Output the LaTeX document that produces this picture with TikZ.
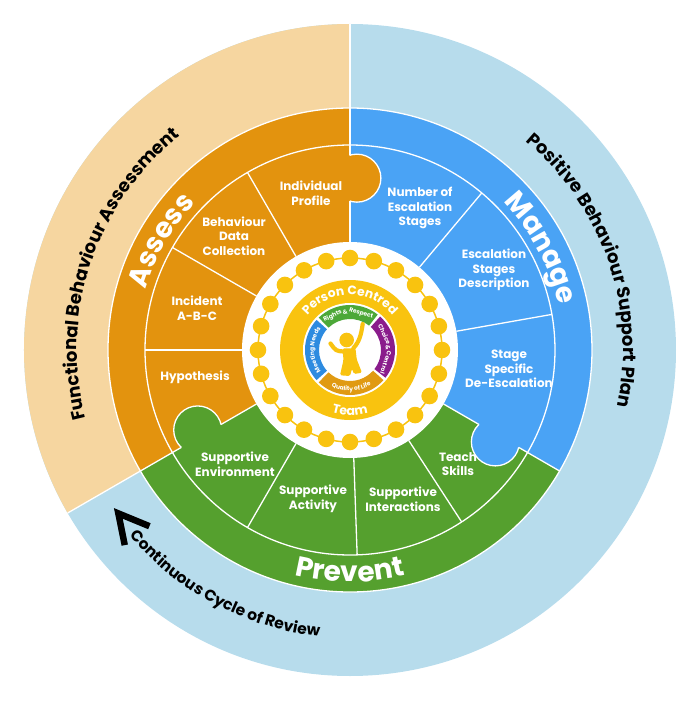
\documentclass[tikz,border=0pt]{standalone}
\usepackage{fontspec}
\setmainfont{Poppins}
\usetikzlibrary{decorations.text}
\definecolor{ringblue}{HTML}{B7DCEC}
\definecolor{ringpeach}{HTML}{F6D6A0}
\definecolor{assessorange}{HTML}{E3930E}
\definecolor{manageblue}{HTML}{4AA3F5}
\definecolor{preventgreen}{HTML}{55A02E}
\definecolor{beadyellow}{HTML}{F9C30F}
\definecolor{needsblue}{HTML}{2D8BE0}
\definecolor{rightsgreen}{HTML}{4CA838}
\definecolor{choicepurple}{HTML}{8A1C8C}
\definecolor{lifeorange}{HTML}{E09A12}
\begin{document}
\begin{tikzpicture}[x=1pt,y=1pt,line width=1.3pt,
		sublabel/.style={text=white,font=\fontsize{12}{14.5}\selectfont\bfseries,align=center},
		tinylabel/.style={text=white,font=\fontsize{6}{6}\selectfont\bfseries,inner sep=0pt},
		arclabel/.style={decorate,decoration={text along path,text align=center,text={#1}}}]
		\useasboundingbox (-350,-360) rectangle (350,350);
		\fill[ringblue] (0,0) circle (326);
		\fill[ringpeach] (0,0) -- (90:326) arc[start angle=90,end angle=210,radius=326] -- cycle;
		\fill[assessorange] (0,0) -- (90:242) arc[start angle=90,end angle=210,radius=242] -- cycle;
		\fill[manageblue] (0,0) -- (-30:242) arc[start angle=-30,end angle=90,radius=242] -- cycle;
		\fill[preventgreen] (0,0) -- (210:242) arc[start angle=210,end angle=330,radius=242] -- cycle;
		\draw[white] (0,0) circle (242);
		\draw[white] (0,0) circle (205);
		\foreach \a in {90,210} \draw[white] (\a:108) -- (\a:326);
		\draw[white] (-30:108) -- (-30:242);
		\foreach \a in {120,150,180,50,10,240,272,303} \draw[white] (\a:108) -- (\a:205);
		% puzzle knobs
		\fill[assessorange] (87.7:172) circle (24);
		\fill[manageblue] (-32.3:172) circle (24);
		\fill[preventgreen] (207.7:172) circle (24);
		\begin{scope}
			\clip (0,0) -- (90:250) arc[start angle=90,end angle=-30,radius=250] -- cycle;
			\draw[white] (87.7:172) circle (24);
		\end{scope}
		\begin{scope}
			\clip (0,0) -- (-30:250) arc[start angle=-30,end angle=-150,radius=250] -- cycle;
			\draw[white] (-32.3:172) circle (24);
		\end{scope}
		\begin{scope}
			\clip (0,0) -- (210:250) arc[start angle=210,end angle=90,radius=250] -- cycle;
			\draw[white] (207.7:172) circle (24);
		\end{scope}
		% centre
		\fill[white] (0,0) circle (108);
		\draw[beadyellow,line width=1.5pt] (0,0) circle (92);
		\foreach \a in {0,15,...,345} \fill[beadyellow] (\a:92) circle (8.3);
		\fill[beadyellow] (0,0) circle (70);
		\fill[white] (0,0) circle (47);
		\foreach \st/\en/\col in {52/134/rightsgreen,138/222/needsblue,226/318/lifeorange,322/408/choicepurple}
			\fill[\col] (\st:45) arc[start angle=\st,end angle=\en,radius=45] -- (\en:31) arc[start angle=\en,end angle=\st,radius=31] -- cycle;
		\fill[beadyellow] (-3.3,10) circle (7.3);
		\draw[beadyellow,line width=4.2pt,line cap=round] (3.3,1.7) .. controls (9,8) and (11,14) .. (12.7,26);
		\draw[beadyellow,line width=4.2pt,line cap=round] (-6,-1.5) .. controls (-14,-1) .. (-19.5,6.5);
		\fill[beadyellow,rounded corners=1.5pt] (-7.5,1.5) -- (5.5,1.8) -- (6.7,-9.3) -- (12,-22.7) -- (4,-24) -- (2,-18.7) -- (0,-26) -- (-10,-25.3) -- (-6.5,-10) -- cycle;
		% ring texts
		\path[arclabel={|\color{white}\fontsize{12.3}{12.3}\selectfont\bfseries|Person Centred}] (162:55) arc[start angle=162,end angle=18,radius=55];
		\path[arclabel={|\color{white}\fontsize{12.5}{12.5}\selectfont\bfseries|Team}] (220:65) arc[start angle=220,end angle=320,radius=65];
		\path[arclabel={|\color{white}\fontsize{6}{6}\selectfont\bfseries|Quality of Life}] (190:41) arc[start angle=190,end angle=354,radius=41];
		\path[arclabel={|\color{white}\fontsize{6}{6}\selectfont\bfseries|Meeting Needs}] (260:36) arc[start angle=260,end angle=100,radius=36];
		\node[tinylabel,rotate=27] (rights) at (117:38) {Rights};
		\node[tinylabel,rotate=7.1] (ramp) at (97.1:38) {\&};
		\node[tinylabel,rotate=-16.9] (respect) at (73.1:38) {Respect};
		\node[tinylabel,rotate=-65.4] (choice) at (24.6:38) {Choice};
		\node[tinylabel,rotate=-86.6] (camp) at (3.4:38) {\&};
		\node[tinylabel,rotate=-109.3] (control) at (-19.3:38) {Control};
		% section titles
		\path[arclabel={|\color{white}\fontsize{28}{28}\selectfont\bfseries|Assess}] (190:213) arc[start angle=190,end angle=110,radius=213];
		\path[arclabel={|\color{white}\fontsize{28}{28}\selectfont\bfseries|Manage}] (68:213) arc[start angle=68,end angle=-12,radius=213];
		\path[arclabel={|\color{white}\fontsize{28}{28}\selectfont\bfseries|Prevent}] (230:232) arc[start angle=230,end angle=310,radius=232];
		\path[arclabel={|\fontsize{18}{18}\selectfont\bfseries|Functional Behaviour Assessment}] (225:273) arc[start angle=225,end angle=98,radius=273];
		\path[arclabel={|\fontsize{18}{18}\selectfont\bfseries|Positive Behaviour Support Plan}] (82:273) arc[start angle=82,end angle=-44,radius=273];
		\path[arclabel={|\fontsize{15.5}{15.5}\selectfont\bfseries|Continuous Cycle of Review}] (189:288) arc[start angle=189,end angle=295,radius=288];
		\coordinate (armin) at (221.3:267);
		\coordinate (tip) at (215.2:283.5);
		\coordinate (armout) at (220.9:298);
		\draw[black,line width=6.5pt] (armin) -- (tip) -- (armout);
		% segment labels
		\node[sublabel] (profile) at (-39,157) {Individual\\Profile};
		\node[sublabel] (data) at (-116,114) {Behaviour\\Data\\Collection};
		\node[sublabel] (incident) at (-153,42) {Incident\\A-B-C};
		\node[sublabel] (hypo) at (-155,-27) {Hypothesis};
		\node[sublabel] (stages) at (70,142) {Number of\\Escalation\\Stages};
		\node[sublabel] (descr) at (144,80) {Escalation\\Stages\\Description};
		\node[sublabel] (deesc) at (159,-19) {Stage\\Specific\\De-Escalation};
		\node[sublabel] (envir) at (-115,-114) {Supportive\\Environment};
		\node[sublabel] (activ) at (-37,-149) {Supportive\\Activity};
		\node[sublabel] (inter) at (53,-149) {Supportive\\Interactions};
		\node[sublabel] (skills) at (108,-114) {Teach\\Skills};
	\end{tikzpicture}
\end{document}
